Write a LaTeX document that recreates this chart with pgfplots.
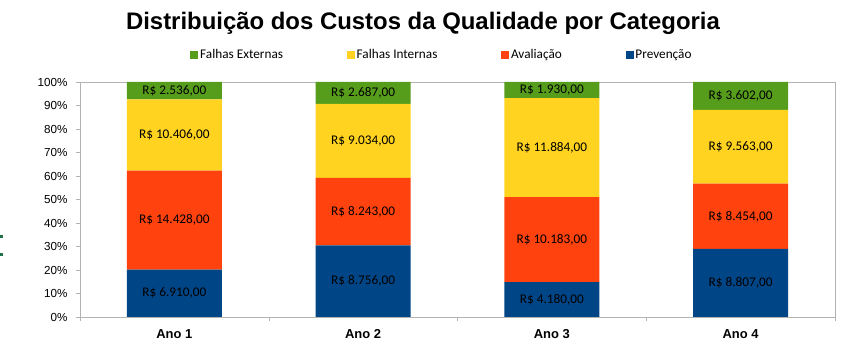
\documentclass[border=0pt]{standalone}
\usepackage{pgfplots}
\pgfplotsset{compat=1.18}
\usepackage{pgfplotstable}
\usepackage{fontspec}
\setmainfont{Liberation Sans}
\newfontfamily\calibri{Carlito}
\definecolor{cblue}{HTML}{004586}
\definecolor{corange}{HTML}{FF420E}
\definecolor{cyellow}{HTML}{FFD320}
\definecolor{cgreen}{HTML}{579D1C}
\definecolor{axgray}{HTML}{B3B3B3}
\definecolor{xlgreen}{HTML}{217346}
\pgfplotstableread{
x p a i e
0 6910 14428 10406 2536
1 8756 8243 9034 2687
2 4180 10183 11884 1930
3 8807 8454 9563 3602
}\data
\pgfplotsset{
  common/.style={
    scale only axis, width=755bp, height=235bp,
    at={(80bp,43bp)}, anchor=south west,
    xmin=-0.5, xmax=3.5, ymin=0, ymax=100,
  },
  lab/.style={draw=none, mark=none, forget plot,
    nodes near coords={R\$ \pgfmathprintnumber[assume math mode=true,fixed,precision=2,fixed zerofill,use comma,1000 sep={.},min exponent for 1000 sep=0]{\pgfplotspointmeta}},
    every node near coord/.append style={anchor=center, font=\calibri\fontsize{13.3}{15}\selectfont, text=black, inner sep=0pt},
    point meta=explicit},
}
\begin{document}
\begin{tikzpicture}
\useasboundingbox (0,0) rectangle (864bp,360bp);
\fill[xlgreen] (0bp,122bp) rectangle (3bp,124.5bp);
\fill[xlgreen] (0bp,104bp) rectangle (3bp,106.5bp);
\node[font=\bfseries\fontsize{24}{28}\selectfont] at (423bp,337bp) {Distribuição dos Custos da Qualidade por Categoria};
\begin{axis}[common,
  ybar stacked, bar width=95bp,
  axis line style={axgray},
  tick style={axgray},
  xtick={0,1,2,3}, xticklabels={Ano 1,Ano 2,Ano 3,Ano 4},
  minor xtick={-0.5,0.5,1.5,2.5,3.5},
  major x tick style={draw=none},
  major tick length=4bp, minor tick length=4bp,
  tick align=outside,
  xtick pos=lower, ytick pos=left,
  ytick={0,10,...,100},
  yticklabel={\pgfmathprintnumber[assume math mode=true]{\tick}\%},
  yticklabel style={font=\fontsize{11.7}{14}\selectfont, text=black, xshift=-5bp},
  xticklabel style={font=\bfseries\fontsize{13}{15}\selectfont, text=black, yshift=-5bp},
  reverse legend,
  legend columns=-1,
  legend style={at={(axis description cs:0.146,1.115)}, anchor=west, draw=none, fill=none,
    inner sep=0pt, font=\calibri\fontsize{13.3}{15}\selectfont,
    nodes={inner sep=1.8bp},
    /tikz/every even column/.append style={column sep=62bp}},
  legend image code/.code={\fill[#1] (0bp,-4bp) rectangle (8bp,4bp);},
]
\addplot[fill=cblue, draw=none] table[x=x, y expr={100*\thisrow{p}/(\thisrow{p}+\thisrow{a}+\thisrow{i}+\thisrow{e})}]{\data};
\addlegendentry{Prevenção}
\addplot[fill=corange, draw=none] table[x=x, y expr={100*\thisrow{a}/(\thisrow{p}+\thisrow{a}+\thisrow{i}+\thisrow{e})}]{\data};
\addlegendentry{Avaliação}
\addplot[fill=cyellow, draw=none] table[x=x, y expr={100*\thisrow{i}/(\thisrow{p}+\thisrow{a}+\thisrow{i}+\thisrow{e})}]{\data};
\addlegendentry{Falhas Internas}
\addplot[fill=cgreen, draw=none] table[x=x, y expr={100*\thisrow{e}/(\thisrow{p}+\thisrow{a}+\thisrow{i}+\thisrow{e})}]{\data};
\addlegendentry{Falhas Externas}
\end{axis}
\begin{axis}[common, hide axis, clip=false]
\addplot[lab] table[x=x, meta=p, y expr={50*\thisrow{p}/(\thisrow{p}+\thisrow{a}+\thisrow{i}+\thisrow{e})}]{\data};
\addplot[lab] table[x=x, meta=a, y expr={100*(\thisrow{p}+0.5*\thisrow{a})/(\thisrow{p}+\thisrow{a}+\thisrow{i}+\thisrow{e})}]{\data};
\addplot[lab] table[x=x, meta=i, y expr={100*(\thisrow{p}+\thisrow{a}+0.5*\thisrow{i})/(\thisrow{p}+\thisrow{a}+\thisrow{i}+\thisrow{e})}]{\data};
\addplot[lab] table[x=x, meta=e, y expr={100*(\thisrow{p}+\thisrow{a}+\thisrow{i}+0.5*\thisrow{e})/(\thisrow{p}+\thisrow{a}+\thisrow{i}+\thisrow{e})}]{\data};
\end{axis}
\end{tikzpicture}
\end{document}
